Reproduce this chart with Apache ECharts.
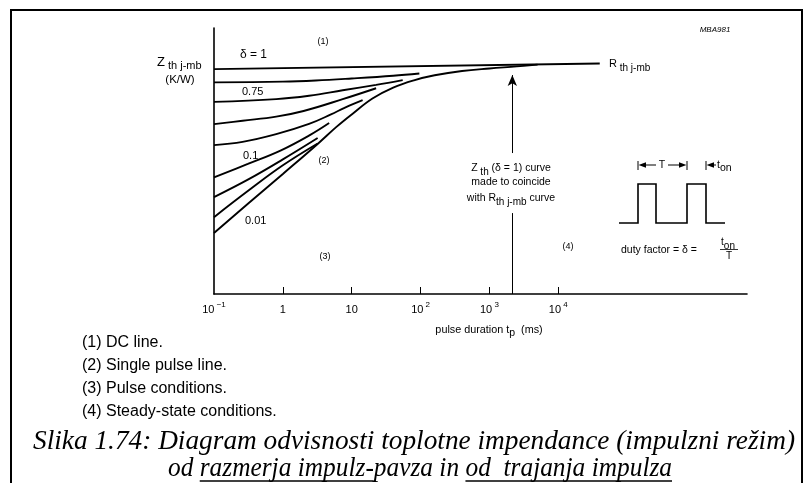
<!DOCTYPE html>
<html><head><meta charset="utf-8">
<script src="https://cdn.jsdelivr.net/npm/echarts@6/dist/echarts.min.js"></script>
<style>html,body{margin:0;padding:0;background:#fff}#c{width:809px;height:483px}</style>
</head><body><div id="c"></div>
<script>
// ---- data (pulse duration in ms, Zth relative to Rth j-mb) ----
const tickValues = [1, 10, 100, 1000, 10000];
const labelValues = [0.1, 1, 10, 100, 1000, 10000];
const dutyFactors = ['1', '0.75', '0.5', '0.2', '0.1', '0.05', '0.02', '0.01', 'single pulse'];
const curve1 = [[0.1, 0.989], [40000, 1.014]];
const curve075 = [[0.1, 0.931], [1, 0.934], [3, 0.939], [10, 0.948], [40, 0.960], [96, 0.970]];
const curve05 = [[0.1, 0.845], [0.8, 0.857], [2.4, 0.872], [7.4, 0.896], [22.6, 0.920], [55, 0.941]];
const curve02 = [[0.1, 0.747], [0.26, 0.762], [0.8, 0.780], [2.0, 0.805], [7.4, 0.857], [22.6, 0.905]];
const curve01 = [[0.1, 0.655], [0.26, 0.669], [0.8, 0.703], [2.4, 0.748], [5, 0.790], [8, 0.820], [14.4, 0.853]];
const curve005 = [[0.1, 0.513], [0.31, 0.572], [0.94, 0.632], [2.5, 0.700], [4.7, 0.752]];
const curve002 = [[0.1, 0.426], [0.32, 0.505], [1, 0.592], [3.2, 0.686]];
const curve001 = [[0.1, 0.338], [0.32, 0.456], [1, 0.566], [3.2, 0.662]];
const curveSingle = [[0.1, 0.268], [0.32, 0.400], [1, 0.528], [3.2, 0.660], [6, 0.735], [10, 0.790], [20, 0.860], [40, 0.908], [80, 0.940], [160, 0.962], [400, 0.981], [1000, 0.992], [2500, 1.001], [5000, 1.009]];
const arrowAt = 2150;
const arrowSegments = [[0, 0.356], [0.62, 0.963]];
const legendLines = ['(1) DC line.', '(2) Single pulse line.', '(3) Pulse conditions.', '(4) Steady-state conditions.'];
const caption1 = 'Slika 1.74: Diagram odvisnosti toplotne impendance (impulzni režim)';
const caption2 = 'od razmerja impulz-pavza in od  trajanja impulza';

const curves = [curve1, curve075, curve05, curve02, curve01, curve005, curve002, curve001, curveSingle];
const SANS = '"Liberation Sans", Arial, Helvetica, sans-serif';
const SERIF = '"Liberation Serif", "Times New Roman", Times, serif';

function measure(text, font) {
  const ctx = document.createElement('canvas').getContext('2d');
  ctx.font = font;
  return ctx.measureText(text).width;
}

function richSet(base, small) {
  return {
    b: { fontSize: base, fontFamily: SANS, color: '#000', lineHeight: 18, verticalAlign: 'middle' },
    s: { fontSize: small, fontFamily: SANS, color: '#000', lineHeight: 11, verticalAlign: 'top' },
    d: { fontSize: small, fontFamily: SANS, color: '#000', lineHeight: 11, verticalAlign: 'bottom' }
  };
}

function txt(text, x, y, size, align, extra) {
  const st = Object.assign({
    text: text, fill: '#000', fontSize: size, fontFamily: SANS,
    align: align || 'left', verticalAlign: 'middle',
    textAlign: align || 'left', textVerticalAlign: 'middle'
  }, extra || {});
  return { type: 'text', x: x, y: y, silent: true, style: st };
}
function seg(x1, y1, x2, y2, w) {
  return { type: 'line', silent: true, shape: { x1: x1, y1: y1, x2: x2, y2: y2 }, style: { stroke: '#000', lineWidth: w || 1 } };
}
function tri(pts) {
  return { type: 'polygon', silent: true, shape: { points: pts }, style: { fill: '#000' } };
}

const chart = echarts.init(document.getElementById('c'));

const graphics = [];
// frame
graphics.push({ type: 'rect', silent: true, shape: { x: 11, y: 10, width: 791, height: 490 }, style: { fill: 'none', stroke: '#000', lineWidth: 2 } });
// axis title / annotations
graphics.push(txt('MBA981', 715, 30, 8, 'center', { fontStyle: 'italic' }));
graphics.push(txt('{b|Z}{d| th j-mb}', 157, 62, 13, 'left', { rich: richSet(13, 11) }));
graphics.push(txt('(K/W)', 180, 80, 11.5, 'center'));
graphics.push(txt('δ = 1', 240, 55, 12, 'left'));
graphics.push(txt('0.75', 242, 92, 11, 'left'));
graphics.push(txt('0.1', 243, 156, 11, 'left'));
graphics.push(txt('0.01', 245, 221, 11, 'left'));
graphics.push(txt('(1)', 323, 42, 9, 'center'));
graphics.push(txt('(2)', 324, 161, 9, 'center'));
graphics.push(txt('(3)', 325, 257, 9, 'center'));
graphics.push(txt('(4)', 568, 247, 9, 'center'));
graphics.push(txt('{b|R}{d| th j-mb}', 609, 64, 11, 'left', { rich: richSet(11, 10) }));
graphics.push(txt('{b|Z}{d| th}{b| (δ = 1) curve}', 511, 168, 10.5, 'center', { rich: richSet(10.5, 10) }));
graphics.push(txt('made to coincide', 511, 182, 10.5, 'center'));
graphics.push(txt('{b|with R}{d|th j-mb}{b| curve}', 511, 198, 10.5, 'center', { rich: richSet(10.5, 10) }));
graphics.push(txt('{b|pulse duration t}{d|p}{b|  (ms)}', 489, 330, 10.8, 'center', { rich: richSet(10.8, 10.5) }));
// pulse sketch
graphics.push({ type: 'polyline', silent: true, shape: { points: [[619, 223], [638, 223], [638, 184], [656, 184], [656, 223], [687, 223], [687, 184], [706, 184], [706, 223], [725, 223]] }, style: { stroke: '#000', lineWidth: 1.6, fill: null } });
graphics.push(seg(638, 161, 638, 170, 1));
graphics.push(seg(687, 161, 687, 170, 1));
graphics.push(seg(706, 161, 706, 170, 1));
graphics.push(seg(644, 165, 656, 165, 1));
graphics.push(tri([[638.5, 165], [646, 162.3], [646, 167.7]]));
graphics.push(seg(668, 165, 680, 165, 1));
graphics.push(tri([[686.5, 165], [679, 162.3], [679, 167.7]]));
graphics.push(seg(712, 165, 716, 165, 1));
graphics.push(tri([[706.5, 165], [714, 162.3], [714, 167.7]]));
graphics.push(txt('T', 662, 165, 10.5, 'center'));
graphics.push(txt('{b|t}{d|on}', 717, 165, 10.5, 'left', { rich: richSet(10.5, 10.5) }));
graphics.push(txt('duty factor = δ =', 621, 250, 10.5, 'left'));
graphics.push(txt('{b|t}{d|on}', 728, 242, 10, 'center', { rich: richSet(10, 10) }));
graphics.push(seg(720, 249.5, 738, 249.5, 0.8));
graphics.push(txt('T', 729, 256, 10, 'center'));
// notes
legendLines.forEach(function (t, i) {
  graphics.push(txt(t, 82, [343, 366, 389, 412][i], 16, 'left'));
});
// caption
const capSize = 27;
const capFont = 'italic ' + capSize + 'px ' + SERIF;
const w1 = measure(caption1, capFont);
const w2 = measure(caption2, capFont);
const s1 = (795 - 33) / w1;
const s2 = (672 - 168) / w2;
function capText(t, x, y, s) {
  return { type: 'text', x: x, y: y, scaleX: s, silent: true, style: { text: t, fill: '#000', font: capFont, align: 'left', verticalAlign: 'middle', textAlign: 'left', textVerticalAlign: 'middle' } };
}
graphics.push(capText(caption1, 33, 442, s1));
graphics.push(capText(caption2, 168, 469, s2));
const u1a = 168 + s2 * measure('od ', capFont);
const u1b = 168 + s2 * measure('od razmerja impulz-', capFont);
const u2a = 168 + s2 * measure('od razmerja impulz-pavza in ', capFont);
const u2b = 168 + s2 * w2;
graphics.push(seg(u1a, 481, u1b, 481, 1.6));
graphics.push(seg(u2a, 481, u2b, 481, 1.6));

function xLabel(v) {
  const e = Math.round(Math.log10(v));
  if (e === -1) return '{b|10}{s| −1}';
  if (e === 0) return '{b|1}';
  if (e === 1) return '{b|10}';
  return '{b|10}{s| ' + e + '}';
}

const series = curves.map(function (d, i) {
  return {
    type: 'line', name: 'δ = ' + dutyFactors[i], data: d,
    smooth: 0.4, showSymbol: false, symbol: 'none', silent: true,
    lineStyle: { color: '#000', width: 1.9 }, z: 3
  };
});
series.push({
  type: 'line', name: 'arrow', data: [], silent: true,
  markLine: {
    silent: true, animation: false, label: { show: false },
    lineStyle: { color: '#000', width: 1, type: 'solid' },
    symbolSize: [7, 11],
    data: [
      [{ coord: [arrowAt, arrowSegments[0][0]], symbol: 'none' }, { coord: [arrowAt, arrowSegments[0][1]], symbol: 'none' }],
      [{ coord: [arrowAt, arrowSegments[1][0]], symbol: 'none' }, { coord: [arrowAt, arrowSegments[1][1]], symbol: 'arrow' }]
    ]
  }
});

chart.setOption({
  animation: false,
  backgroundColor: '#fff',
  grid: { left: 214, right: 62, top: 28, bottom: 189, containLabel: false },
  xAxis: {
    type: 'log', logBase: 10, min: 0.1, max: 5.5e6,
    axisLine: { show: true, lineStyle: { color: '#000', width: 1.6 } },
    axisTick: { show: true, inside: true, length: 7, lineStyle: { color: '#000', width: 1 }, customValues: tickValues },
    axisLabel: { show: true, customValues: labelValues, margin: 7, formatter: xLabel, rich: richSet(11, 8), color: '#000' },
    splitLine: { show: false }, minorTick: { show: false }, minorSplitLine: { show: false }
  },
  yAxis: {
    type: 'value', min: 0, max: 1.17,
    axisLine: { show: true, lineStyle: { color: '#000', width: 1.6 } },
    axisTick: { show: false }, axisLabel: { show: false }, splitLine: { show: false }
  },
  series: series,
  graphic: graphics
});
</script>
</body></html>
